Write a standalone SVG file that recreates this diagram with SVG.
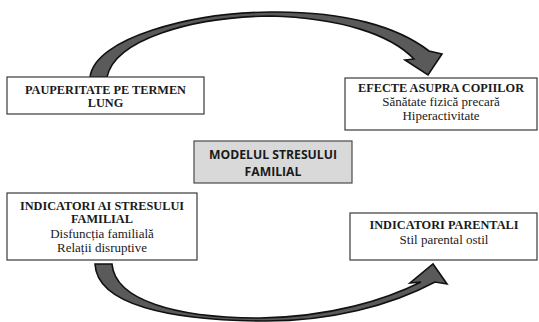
<svg xmlns="http://www.w3.org/2000/svg" width="539" height="322" viewBox="0 0 539 322">
<style>
.box{fill:#fff;stroke:#3a3a3a;stroke-width:1.2}
.gbox{fill:#d9d9d9;stroke:#4a4a4a;stroke-width:1.2}
.t{font-family:'Liberation Serif','Times New Roman',serif;font-size:13px;fill:#1a1a1a;text-anchor:middle}
.b{font-weight:bold;font-size:12.3px}
.s{font-family:'Open Sans','Liberation Sans',sans-serif;font-size:12.2px;font-weight:bold;fill:#1a1a1a;text-anchor:middle}
.arr{fill:#5a5a5a;stroke:#111;stroke-width:1.6;stroke-linejoin:miter}
</style>
<rect width="539" height="322" fill="#fff"/>
<g id="connectors">
<path class="arr" d="M90,77 C95,38 190,13 270,12 C345,11 398,27 429,51 L442,54 L428,75 L405,60 L414,59 C390,34 340,18 270,16 C190,17 115,40 107,77 Z"/>
<path class="arr" d="M95,264 C97,305 170,320 260,321 C330,322 392,305 435,282 L447,284 L433,264 L410,283 L421,282 C385,300 330,317 260,318 C175,318 115,300 112,264 Z"/>
</g>
<g id="node-pauperitate">
<rect class="box" x="7" y="77" width="197" height="37"/>
<text class="t b" x="105.5" y="93.5">PAUPERITATE PE TERMEN</text>
<text class="t b" x="105.5" y="107">LUNG</text>
</g>
<g id="node-efecte">
<rect class="box" x="345" y="78" width="192" height="52"/>
<text class="t b" x="441" y="91.5">EFECTE ASUPRA COPIILOR</text>
<text class="t" x="441" y="105.5">Sănătate fizică precară</text>
<text class="t" x="441" y="120">Hiperactivitate</text>
</g>
<g id="node-model">
<rect class="gbox" x="194" y="141" width="158" height="42"/>
<text class="s" x="273" y="159">MODELUL STRESULUI</text>
<text class="s" x="273" y="175.5">FAMILIAL</text>
</g>
<g id="node-indicatori-stres">
<rect class="box" x="7" y="193" width="190" height="67"/>
<text class="t b" x="102" y="209.5">INDICATORI AI STRESULUI</text>
<text class="t b" x="102" y="223">FAMILIAL</text>
<text class="t" x="102" y="237.5">Disfuncția familială</text>
<text class="t" x="102" y="252">Relații disruptive</text>
</g>
<g id="node-indicatori-parentali">
<rect class="box" x="350" y="213" width="187" height="47"/>
<text class="t b" x="444" y="229">INDICATORI PARENTALI</text>
<text class="t" x="444" y="243.5">Stil parental ostil</text>
</g>
</svg>
